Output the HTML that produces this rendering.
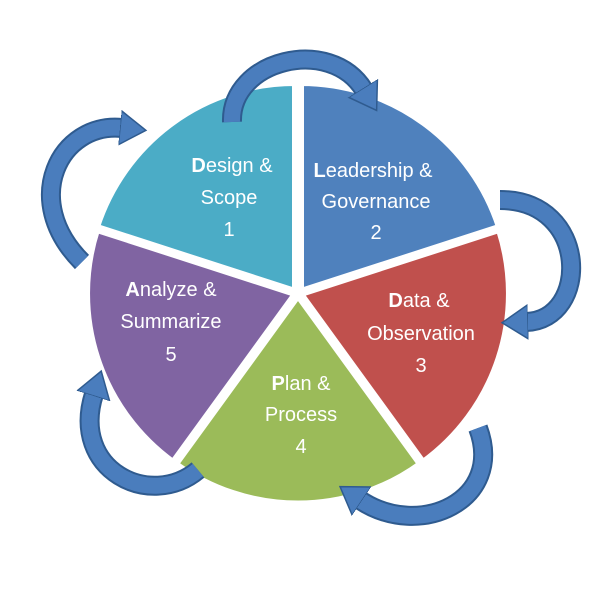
<!DOCTYPE html>
<html><head><meta charset="utf-8"><style>
html,body{margin:0;padding:0;background:#fff;}
svg{display:block;}
text{font-family:"Liberation Sans",sans-serif;font-size:20px;fill:#fff;text-anchor:middle;}
</style></head><body>
<svg width="600" height="600" viewBox="0 0 600 600" xmlns="http://www.w3.org/2000/svg">
<defs>
<marker id="ah" markerUnits="userSpaceOnUse" markerWidth="44" markerHeight="44" refX="2" refY="18" orient="auto">
<path d="M0,1 L26,18 L0,35 Z" fill="#4a7dbd" stroke="#2f5b8f" stroke-width="1.5"/>
</marker>
</defs>
<g transform="translate(298,292)" stroke="#fff" stroke-width="6" stroke-linejoin="miter">
<path d="M0,0 L0,-208 A208,208 0 0 1 198,-64 Z" fill="#4f81bd" transform="translate(3,-1)"/>
<path d="M0,0 L198,-64 A208,208 0 0 1 122,168 Z" fill="#c0504d" transform="translate(3,2)"/>
<path d="M0,0 L122,168 A208,208 0 0 1 -122,168 Z" fill="#9bbb59" transform="translate(0,4)"/>
<path d="M0,0 L-122,168 A208,208 0 0 1 -198,-64 Z" fill="#8064a2" transform="translate(-3,2)"/>
<path d="M0,0 L-198,-64 A208,208 0 0 1 0,-208 Z" fill="#4bacc6" transform="translate(-3,-1)"/>
</g>
<g fill="none" stroke-linecap="butt">
<g stroke="#2f5b8f" stroke-width="20">
<path d="M232 122 C230 60,330 35,364 90"/>
<path d="M500 200 C590 200,590 320,526 322"/>
<path d="M478 428 C505 500,420 540,360 500"/>
<path d="M198 470 C150 510,70 470,94 394"/>
<path d="M82 262 C20 200,60 122,122 128"/>
</g>
<g stroke="#4a7dbd" stroke-width="16">
<path d="M232 122 C230 60,330 35,364 90" marker-end="url(#ah)"/>
<path d="M500 200 C590 200,590 320,526 322" marker-end="url(#ah)"/>
<path d="M478 428 C505 500,420 540,360 500" marker-end="url(#ah)"/>
<path d="M198 470 C150 510,70 470,94 394" marker-end="url(#ah)"/>
<path d="M82 262 C20 200,60 122,122 128" marker-end="url(#ah)"/>
</g>
</g>
<text x="232" y="172"><tspan font-weight="bold">D</tspan>esign &amp;</text>
<text x="229" y="204">Scope</text>
<text x="229" y="236">1</text>
<text x="373" y="177"><tspan font-weight="bold">L</tspan>eadership &amp;</text>
<text x="376" y="208">Governance</text>
<text x="376" y="239">2</text>
<text x="419" y="307"><tspan font-weight="bold">D</tspan>ata &amp;</text>
<text x="421" y="340">Observation</text>
<text x="421" y="372">3</text>
<text x="301" y="390"><tspan font-weight="bold">P</tspan>lan &amp;</text>
<text x="301" y="421">Process</text>
<text x="301" y="453">4</text>
<text x="171" y="296"><tspan font-weight="bold">A</tspan>nalyze &amp;</text>
<text x="171" y="328">Summarize</text>
<text x="171" y="361">5</text>
</svg>
</body></html>
